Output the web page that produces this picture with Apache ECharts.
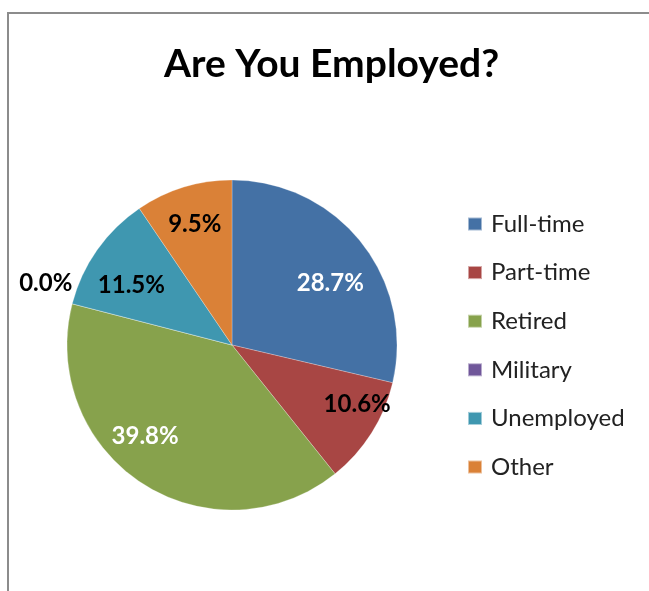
<!DOCTYPE html>
<html>
<head>
<meta charset="utf-8">
<script src="https://cdn.jsdelivr.net/npm/echarts@6/dist/echarts.min.js"></script>
<style>
html,body{margin:0;padding:0;background:#fff;}
#chart{width:649px;height:591px;}
</style>
</head>
<body>
<div id="chart"></div>
<script>
const categories = ['Full-time', 'Part-time', 'Retired', 'Military', 'Unemployed', 'Other'];
const values = [28.7, 10.6, 39.8, 0.0, 11.5, 9.5];
const colors = ['#4471A5', '#A84644', '#87A24C', '#70579A', '#3F97B0', '#DA8137'];
const labelColors = ['#ffffff', '#000000', '#ffffff', '#000000', '#000000', '#000000'];
// small nudges of data labels (Excel-style best-fit placement)
const labelNudges = [[-1, 17], [18, -8], [-18, -15], [9, -19], [3, 13], [0, 0]];
const titleText = 'Are You Employed?';

const FONT = 'Lato, "Open Sans", sans-serif';
const center = [232, 345];
const R = 165;

const chart = echarts.init(document.getElementById('chart'));

const baseData = categories.map((c, i) => ({
  name: c, value: values[i], itemStyle: { color: colors[i] }
}));

const labelData = categories.map((c, i) => {
  const d = { name: c, value: values[i], itemStyle: { color: 'rgba(0,0,0,0)' },
    label: { color: labelColors[i], offset: labelNudges[i] } };
  if (values[i] === 0) {
    d.label = { color: '#000', position: 'outside', distance: 2, offset: labelNudges[i] };
    d.labelLine = { show: false, length: 4, length2: 0 };
  }
  return d;
});

chart.setOption({
  animation: false,
  title: {
    text: titleText, left: 159, top: 40,
    textStyle: { fontFamily: FONT, fontWeight: 'bold', fontSize: 39, color: '#000' }
  },
  graphic: [{
    type: 'rect', silent: true,
    shape: { x: 8, y: 13, width: 700, height: 700 },
    style: { fill: 'none', stroke: '#8c8c8c', lineWidth: 2 }
  }],
  legend: {
    orient: 'vertical', left: 467, top: 212, itemGap: 24.6, padding: 0,
    icon: 'rect', itemWidth: 14, itemHeight: 13,
    data: categories,
    textStyle: { fontFamily: FONT, fontSize: 24, color: '#222', padding: [0, 0, 0, 4] }
  },
  series: [{
    type: 'pie', center: center, radius: R, startAngle: 90, clockwise: true,
    label: { show: false }, labelLine: { show: false },
    itemStyle: { borderColor: 'rgba(255,255,255,0.5)', borderWidth: 0.5 },
    emphasis: { disabled: true },
    data: baseData
  }, {
    type: 'pie', center: center, radius: [R * 0.5, R], startAngle: 90, clockwise: true,
    silent: true, avoidLabelOverlap: false, legendHoverLink: false,
    emphasis: { disabled: true },
    label: {
      show: true, position: 'inside', formatter: p => p.value.toFixed(1) + '%',
      fontFamily: FONT, fontWeight: 'bold', fontSize: 24
    },
    labelLine: { show: false },
    data: labelData
  }]
});
</script>
</body>
</html>
